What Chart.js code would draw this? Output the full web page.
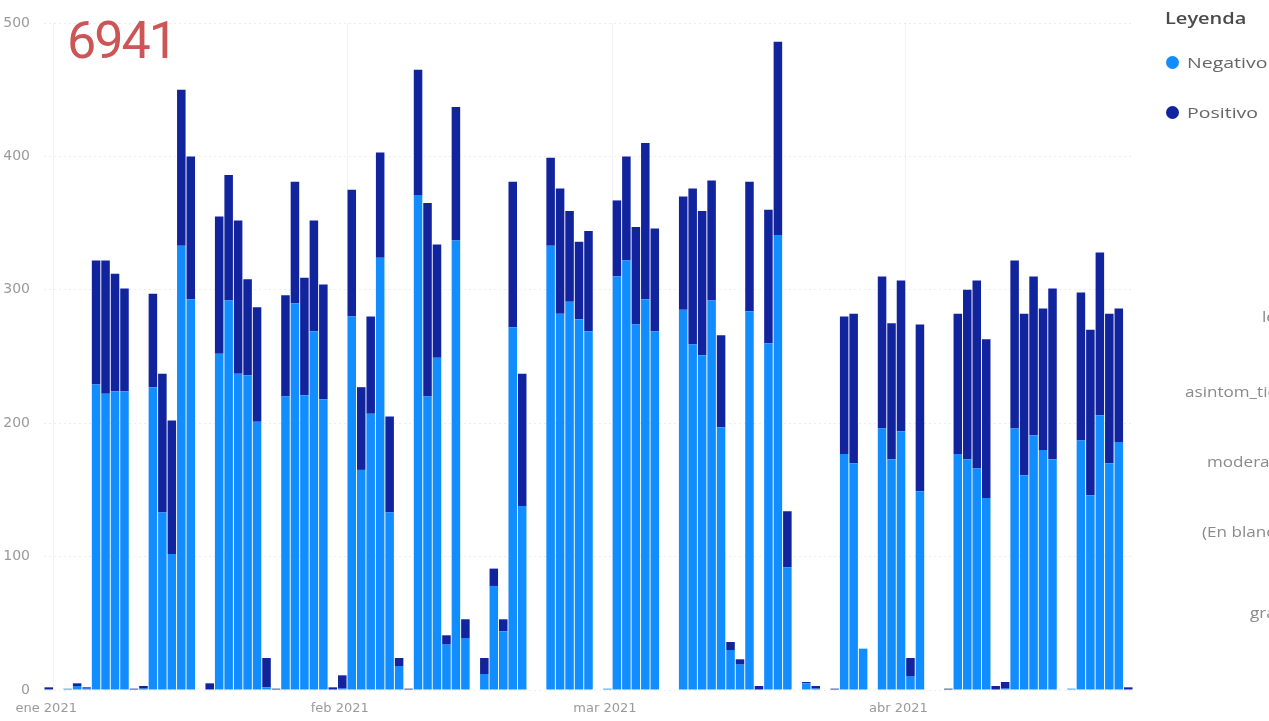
<!DOCTYPE html>
<html lang="es">
<head>
<meta charset="utf-8">
<script src="https://cdn.jsdelivr.net/npm/chart.js@4.4.1/dist/chart.umd.min.js"></script>
<style>
    html, body { margin: 0; padding: 0; background: #fff; overflow: hidden; }
    body { width: 1269px; height: 721px; position: relative; font-family: "Open Sans", "Noto Sans", sans-serif; }
    #casosChart { position: absolute; left: 0; top: 0; }
    .total { position: absolute; left: 67px; top: 15px; font: 400 52px/52px Roboto, sans-serif; color: #cc5555; letter-spacing: -2px; }
    .legend-title { position: absolute; left: 1165px; top: 7px; font: 600 16px "Open Sans", sans-serif; color: #4a4a4a; transform: scaleX(1.25); transform-origin: left center; }
    .legend-item { position: absolute; left: 1166px; font: 15px "Open Sans", sans-serif; color: #666; white-space: nowrap; }
    .legend-item .dot { display: inline-block; width: 13px; height: 13px; border-radius: 50%; margin-right: 8px; vertical-align: -1px; }
    .legend-item .txt { display: inline-block; transform: scaleX(1.3); transform-origin: left center; }
    .side { position: absolute; font: 14px "Open Sans", sans-serif; color: #8a8a8a; white-space: nowrap; transform: scaleX(1.22); transform-origin: left center; }
</style>
</head>
<body>
<canvas id="casosChart" width="1269" height="721"></canvas>
<div class="total">6941</div>
<div class="legend-title">Leyenda</div>
<div class="legend-item" style="top:52px"><span class="dot" style="background:#118dff"></span><span class="txt">Negativo</span></div>
<div class="legend-item" style="top:102px"><span class="dot" style="background:#12239e"></span><span class="txt">Positivo</span></div>
<div class="side" style="left:1262px; top:307px">leve</div>
<div class="side" style="left:1185px; top:382px">asintom_tico</div>
<div class="side" style="left:1207px; top:452px">moderado</div>
<div class="side" style="left:1202px; top:522px">(En blanco)</div>
<div class="side" style="left:1250px; top:603px">grave</div>
<script>
const startDate = '2020-12-31';

const negativo = [
    0, 0, 1, 3, 1, 229, 222, 224, 224, 0,
    1, 227, 133, 102, 333, 293, 0, 0, 252, 292,
    237, 236, 201, 2, 0, 220, 290, 221, 269, 218,
    0, 1, 280, 165, 207, 324, 133, 18, 0, 371,
    220, 249, 34, 337, 39, 0, 12, 78, 44, 272,
    138, 0, 0, 333, 282, 291, 278, 269, 0, 1,
    310, 322, 274, 293, 269, 0, 0, 285, 259, 251,
    292, 197, 30, 19, 284, 0, 260, 341, 92, 0,
    5, 1, 0, 0, 177, 170, 31, 0, 196, 173,
    194, 10, 149, 0, 0, 0, 177, 173, 166, 144,
    0, 1, 196, 161, 191, 180, 173, 0, 1, 187,
    146, 206, 170, 186, 0
];

const positivo = [
    2, 0, 0, 2, 1, 93, 100, 88, 77, 1,
    2, 70, 104, 100, 117, 107, 0, 5, 103, 94,
    115, 72, 86, 22, 1, 76, 91, 88, 83, 86,
    2, 10, 95, 62, 73, 79, 72, 6, 1, 94,
    145, 85, 7, 100, 14, 0, 12, 13, 9, 109,
    99, 0, 0, 66, 94, 68, 58, 75, 0, 0,
    57, 78, 73, 117, 77, 0, 0, 85, 117, 108,
    90, 69, 6, 4, 97, 3, 100, 145, 42, 0,
    1, 2, 0, 1, 103, 112, 0, 0, 114, 102,
    113, 14, 125, 0, 0, 1, 105, 127, 141, 119,
    3, 5, 126, 121, 119, 106, 128, 0, 0, 111,
    124, 122, 112, 100, 2
];

const monthDates = ['2021-01-01', '2021-02-01', '2021-03-01', '2021-04-01'];
const monthNames = ['ene 2021', 'feb 2021', 'mar 2021', 'abr 2021'];
const yTicks = [0, 100, 200, 300, 400, 500];

// one label per day, starting at startDate
let dias = [];
let d0 = new Date(startDate + 'T00:00:00Z');
for (let i = 0; i < negativo.length; i++) {
    let d = new Date(d0.getTime() + i * 86400000);
    dias.push(d.toISOString().slice(0, 10));
}

function monthIndex(i) {
    return monthDates.indexOf(dias[i]);
}

const ctx = document.getElementById('casosChart').getContext('2d');
const casosChart = new Chart(ctx, {
    type: 'bar',
    data: {
        labels: dias,
        datasets: [
            { label: 'Negativo', data: negativo, backgroundColor: '#118dff', barPercentage: 0.9, categoryPercentage: 1 },
            { label: 'Positivo', data: positivo, backgroundColor: '#12239e', barPercentage: 0.9, categoryPercentage: 1 }
        ]
    },
    options: {
        responsive: false,
        animation: false,
        layout: { padding: { top: 23, right: 136, left: 0, bottom: 0 } },
        plugins: { legend: { display: false }, tooltip: { enabled: false } },
        scales: {
            x: {
                stacked: true,
                border: { display: false },
                grid: {
                    drawTicks: false,
                    color: c => (c.index !== undefined && monthIndex(c.index) >= 0) ? 'rgba(0,0,0,0.05)' : 'rgba(0,0,0,0)'
                },
                ticks: {
                    autoSkip: false, maxRotation: 0, padding: 11, labelOffset: -12,
                    color: '#9a9a9a', font: { family: 'DejaVu Sans', size: 13 },
                    callback: (v, i) => {
                        let k = monthIndex(i);
                        return k >= 0 ? monthNames[k] : '';
                    }
                },
                afterFit: s => { s.height = 31; }
            },
            y: {
                stacked: true,
                min: yTicks[0],
                max: yTicks[yTicks.length - 1],
                afterBuildTicks: s => { s.ticks = yTicks.map(v => ({ value: v })); },
                border: { display: false, dash: [2, 3] },
                grid: { color: 'rgba(0,0,0,0.07)', drawTicks: false },
                ticks: { padding: 14, color: '#9a9a9a', font: { family: 'DejaVu Sans', size: 14 } },
                afterFit: s => { s.width = 44; }
            }
        }
    }
});
</script>
</body>
</html>
